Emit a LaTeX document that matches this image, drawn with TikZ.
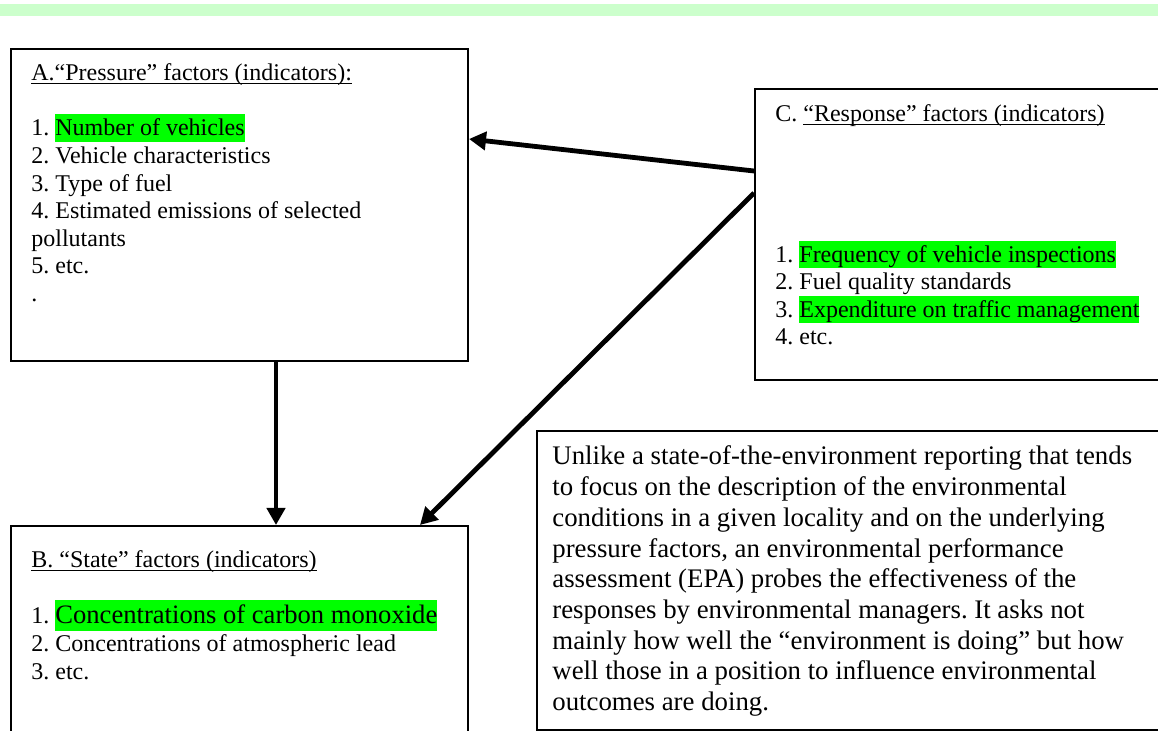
\documentclass[tikz,border=0pt]{standalone}
\usepackage{fontspec}
\setmainfont{Liberation Serif}
\usetikzlibrary{arrows.meta}

\definecolor{hlgreen}{HTML}{00FF00}
\definecolor{bandgreen}{HTML}{CCFFCC}

% highlighted text and underlined text
\newcommand{\hl}[1]{{\setlength{\fboxsep}{0pt}\colorbox{hlgreen}{\rule[-.25em]{0pt}{1.16em}#1}}}
\newcommand{\undl}[1]{\setbox0\hbox{#1}\rlap{\rule[-1.7pt]{\wd0}{0.7pt}}\box0}

\tikzset{
  box/.style={draw, line width=1pt, inner sep=0pt, anchor=north west},
  txt/.style={inner sep=0pt, anchor=base west, font=\fontsize{12}{13.8}\selectfont\frenchspacing},
  bigtxt/.style={txt, font=\fontsize{13.4}{15.4}\selectfont\frenchspacing},
  arr/.style={line width=2.4pt, -{Triangle[length=8.5pt,width=9pt]}}
}

\begin{document}
\begin{tikzpicture}[x=0.5pt,y=-0.5pt]
  \useasboundingbox (0,0) rectangle (1158,731);

  % Drawing top band
  \fill [bandgreen] (0,4) rectangle (1158,16);

  % Drawing box A
  \node [box, minimum width=228.5pt, minimum height=156pt] (boxA) at (10,48) {};
  \node [txt] (a0) at (31,81) {\undl{A.“Pressure” factors (indicators):}};
  \node [txt] (a1) at (31,136) {1. \hl{Number of vehicles}};
  \node [txt] (a2) at (31,163.6) {2. Vehicle characteristics};
  \node [txt] (a3) at (31,191.2) {3. Type of fuel};
  \node [txt] (a4) at (31,218.8) {4. Estimated emissions of selected};
  \node [txt] (a5) at (31,246.4) {pollutants};
  \node [txt] (a6) at (31,274) {5. etc.};
  \node [txt] (a7) at (31,301.6) {.};

  % Drawing box C
  \node [box, minimum width=213pt, minimum height=145.5pt] (boxC) at (754,88) {};
  \node [txt] (c0) at (775,122) {C. \undl{“Response” factors (indicators)}};
  \node [txt] (c1) at (775,262.5) {1. \hl{Frequency of vehicle inspections}};
  \node [txt] (c2) at (775,290) {2. Fuel quality standards};
  \node [txt] (c3) at (775,317.5) {3. \hl{Expenditure on traffic management}};
  \node [txt] (c4) at (775,345) {4. etc.};

  % Drawing box B
  \node [box, minimum width=228.5pt, minimum height=117.5pt] (boxB) at (10,525) {};
  \node [txt] (b0) at (31,568) {\undl{B. “State” factors (indicators)}};
  \node [txt] (b1) at (31,624) {1. {\fontsize{13.3}{15}\selectfont\hl{Concentrations of carbon monoxide}}};
  \node [txt] (b2) at (31,652) {2. Concentrations of atmospheric lead};
  \node [txt] (b3) at (31,680) {3. etc.};

  % Drawing box D
  \node [box, minimum width=322pt, minimum height=149.5pt] (boxD) at (536,430) {};
  \node [bigtxt] (d1) at (552,465) {Unlike a state-of-the-environment reporting that tends};
  \node [bigtxt] (d2) at (552,495.7) {to focus on the description of the environmental};
  \node [bigtxt] (d3) at (552,526.4) {conditions in a given locality and on the underlying};
  \node [bigtxt] (d4) at (552,557.1) {pressure factors, an environmental performance};
  \node [bigtxt] (d5) at (552,587.8) {assessment (EPA) probes the effectiveness of the};
  \node [bigtxt] (d6) at (552,618.5) {responses by environmental managers. It asks not};
  \node [bigtxt] (d7) at (552,649.2) {mainly how well the “environment is doing” but how};
  \node [bigtxt] (d8) at (552,679.9) {well those in a position to influence environmental};
  \node [bigtxt] (d9) at (552,710.6) {outcomes are doing.};

  % Drawing arrows
  \draw [arr] ([xshift=18.25pt]boxA.south) -- ([xshift=18.25pt]boxB.north);
  \draw [arr] ([yshift=-41.5pt]boxC.north west) -- ([yshift=-45.5pt]boxA.north east);
  \draw [arr] ([yshift=-52.5pt]boxC.north west) -- ([xshift=-24.5pt]boxB.north east);
\end{tikzpicture}
\end{document}
